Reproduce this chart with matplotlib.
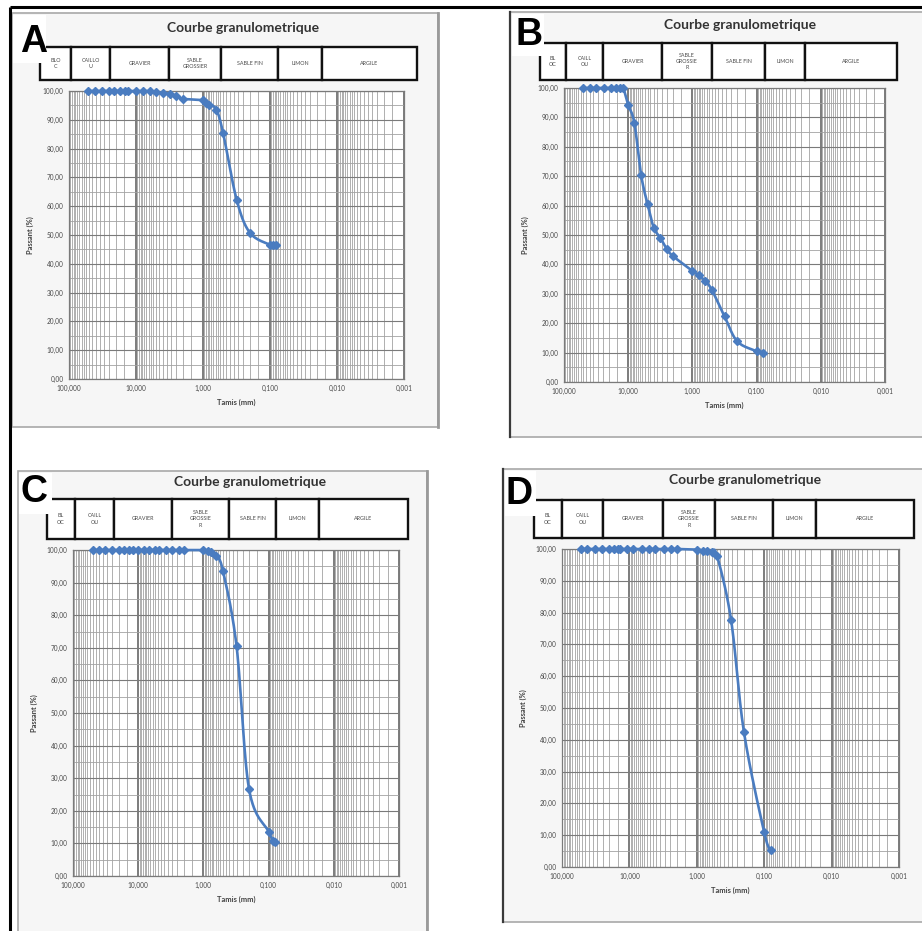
import numpy as np
import matplotlib
matplotlib.use("Agg")
import matplotlib.pyplot as plt
from matplotlib.patches import Rectangle
from matplotlib.ticker import FixedLocator, NullFormatter, FixedFormatter

FW, FH = 922, 931

# ---------------- data ----------------
title = "Courbe granulometrique"
panel_letters = ["A", "B", "C", "D"]
x_ticks = [100, 10, 1, 0.1, 0.01, 0.001]
x_ticklabels = ["100,000", "10,000", "1,000", "0,100", "0,010", "0,001"]
y_ticks = [0, 10, 20, 30, 40, 50, 60, 70, 80, 90, 100]
y_ticklabels = ["0,00", "10,00", "20,00", "30,00", "40,00", "50,00",
                "60,00", "70,00", "80,00", "90,00", "100,00"]
x_label = "Tamis (mm)"
y_label = "Passant (%)"

classes_A = ["BLO\nC", "CAILLO\nU", "GRAVIER", "SABLE\nGROSSIER", "SABLE FIN", "LIMON", "ARGILE"]
classes_BCD = ["BL\nOC", "CAILL\nOU", "GRAVIER", "SABLE\nGROSSIE\nR", "SABLE FIN", "LIMON", "ARGILE"]

sieve_A = [52, 41, 32, 25, 21, 17.5, 14.7, 13, 10, 7.8, 6.2, 5, 4, 3.15, 2.5, 2,
           1.0, 0.9, 0.8, 0.63, 0.5, 0.315, 0.2, 0.1, 0.09, 0.08]
pass_A = [100, 100, 100, 100, 100, 100, 100, 100, 100, 100, 100, 99.5, 99.3, 99.0, 98.3, 97.3,
          96.8, 95.8, 95.2, 93.5, 85.3, 62.3, 50.8, 46.6, 46.6, 46.7]

sieve_B = [50, 40, 31.5, 24, 18.7, 15.6, 13.6, 12, 10, 8, 6.3, 5, 4, 3.15, 2.5, 2,
           1.0, 0.8, 0.63, 0.5, 0.315, 0.2, 0.1, 0.08]
pass_B = [100, 100, 100, 100, 100, 100, 100, 100, 94.3, 88.0, 70.5, 60.5, 52.5, 49.0, 45.2, 42.8,
          37.8, 36.4, 34.3, 31.4, 22.3, 13.8, 10.5, 9.7]

sieve_C = [50, 40, 32, 25, 20, 16.5, 14, 12, 10, 8.2, 6.8, 5.6, 4.8, 3.8, 3, 2.4, 2,
           1.0, 0.85, 0.76, 0.63, 0.5, 0.31, 0.2, 0.1, 0.085, 0.08]
pass_C = [100, 100, 100, 100, 100, 100, 100, 100, 100, 100, 100, 100, 100, 100, 100, 100, 100,
          100, 99.7, 99.3, 98.2, 93.5, 70.5, 26.8, 13.6, 10.6, 10.4]

sieve_D = [52, 42, 32, 25.6, 20.4, 17.2, 15, 13.7, 10.9, 8.7, 6.5, 5.2, 4.15, 3.05, 2.43, 1.98,
           1.0, 0.82, 0.7, 0.6, 0.5, 0.31, 0.2, 0.1, 0.08]
pass_D = [100, 100, 100, 100, 100, 100, 100, 100, 100, 100, 100, 100, 100, 100, 100, 100,
          99.8, 99.5, 99.4, 99.2, 97.8, 77.7, 42.5, 10.9, 5.3]

# ---------------- layout (pixels) ----------------
panels = [
    dict(letter="A", sieve=sieve_A, passing=pass_A, classes=classes_A,
         frame=(12, 13, 438, 427), plot=(69, 91, 404, 379),
         table_x=[40, 71, 110, 169, 221, 278, 322, 417], table_y=(47, 80),
         title_xy=(243, 28), letter_xy=(20, 42), white=(13, 15, 46, 63), frame_left_dark=False),
    dict(letter="B", sieve=sieve_B, passing=pass_B, classes=classes_BCD,
         frame=(510, 12, 930, 437), plot=(564, 88, 885, 382),
         table_x=[540, 566, 603, 662, 712, 765, 805, 897], table_y=(43, 80),
         title_xy=(740, 25), letter_xy=(515, 35), white=(512, 14, 544, 56), frame_left_dark=True),
    dict(letter="C", sieve=sieve_C, passing=pass_C, classes=classes_BCD,
         frame=(18, 471, 427, 935), plot=(73, 550, 399, 876),
         table_x=[47, 75, 114, 172, 229, 276, 319, 408], table_y=(499, 539),
         title_xy=(250, 482), letter_xy=(20, 492), white=(19, 473, 52, 514), frame_left_dark=False),
    dict(letter="D", sieve=sieve_D, passing=pass_D, classes=classes_BCD,
         frame=(503, 469, 930, 922), plot=(562, 549, 899, 867),
         table_x=[534, 562, 603, 663, 715, 773, 816, 914], table_y=(500, 538),
         title_xy=(745, 480), letter_xy=(505, 494), white=(505, 471, 536, 516), frame_left_dark=True),
]

LINE_COLOR = "#4a7cc0"
GRID_DARK = "#7a7a7a"
GRID_LIGHT = "#a2a2a2"
TXT = "#4a4a4a"


def fig_rect(x0, y0, x1, y1):
    return [x0 / FW, 1 - y1 / FH, (x1 - x0) / FW, (y1 - y0) / FH]


def smooth_curve(xs, ys, W, H, n=16):
    """Excel-like smoothed line (Catmull-Rom Bezier) computed in screen space."""
    u = (2 - np.log10(np.asarray(xs, float))) * W / 5.0
    v = np.asarray(ys, float) * H / 100.0
    P = np.column_stack([u, v])
    Pp = np.vstack([P[0], P, P[-1]])
    t = np.linspace(0, 1, n)[1:]
    out = [P[0]]
    for i in range(len(P) - 1):
        p0, p1, p2, p3 = Pp[i], Pp[i + 1], Pp[i + 2], Pp[i + 3]
        c1 = p1 + (p2 - p0) / 6.0
        c2 = p2 - (p3 - p1) / 6.0
        seg = (((1 - t) ** 3)[:, None] * p1 + (3 * (1 - t) ** 2 * t)[:, None] * c1
               + (3 * (1 - t) * t ** 2)[:, None] * c2 + (t ** 3)[:, None] * p2)
        out.extend(seg)
    out = np.array(out)
    return 10 ** (2 - out[:, 0] * 5.0 / W), out[:, 1] * 100.0 / H


fig = plt.figure(figsize=(FW / 100, FH / 100), dpi=100)
fig.patch.set_facecolor("white")

bg = fig.add_axes([0, 0, 1, 1], zorder=0)
bg.set_xlim(0, FW)
bg.set_ylim(FH, 0)
bg.axis("off")

# outer black lines
bg.plot([10, FW], [7, 7], color="black", lw=2.2, solid_capstyle="butt")
bg.plot([10, 10], [7, FH], color="black", lw=2.2, solid_capstyle="butt")

for p in panels:
    fx0, fy0, fx1, fy1 = p["frame"]
    bg.add_patch(Rectangle((fx0, fy0), fx1 - fx0, fy1 - fy0, facecolor="#f6f6f6",
                           edgecolor="#a8a8a8", lw=1.2))
    if p["frame_left_dark"]:
        bg.plot([fx0, fx0], [fy0, fy1], color="#3a3a3a", lw=1.6)
    else:
        bg.plot([fx1, fx1], [fy0, fy1], color="#9a9a9a", lw=2.0)

    # title
    bg.text(p["title_xy"][0], p["title_xy"][1], title, ha="center", va="center",
            fontsize=10, fontweight="bold", family="Lato", color="#333333")

    # class table
    tx = p["table_x"]
    ty0, ty1 = p["table_y"]
    for i in range(len(tx) - 1):
        bg.add_patch(Rectangle((tx[i], ty0), tx[i + 1] - tx[i], ty1 - ty0,
                               facecolor="white", edgecolor="#111111", lw=1.7))
        bg.text((tx[i] + tx[i + 1]) / 2, (ty0 + ty1) / 2, p["classes"][i],
                ha="center", va="center", fontsize=3.9, color=TXT, family="Lato",
                linespacing=1.3)

    # white patch + letter
    wx0, wy0, wx1, wy1 = p["white"]
    bg.add_patch(Rectangle((wx0, wy0), wx1 - wx0, wy1 - wy0, facecolor="white",
                           edgecolor="none", zorder=5))
    bg.text(p["letter_xy"][0], p["letter_xy"][1], p["letter"], ha="left", va="center",
            fontsize=27, fontweight="bold", family="Liberation Sans", color="black", zorder=6)

    # plot area
    px0, py0, px1, py1 = p["plot"]
    ax = fig.add_axes(fig_rect(px0, py0, px1, py1), zorder=1)
    ax.set_facecolor("white")
    ax.set_xscale("log")
    ax.set_xlim(100, 0.001)
    ax.set_ylim(0, 100)

    ax.xaxis.set_major_locator(FixedLocator(x_ticks))
    ax.xaxis.set_major_formatter(FixedFormatter(x_ticklabels))
    minor_x = [m * 10.0 ** e for e in range(-3, 2) for m in np.arange(1.5, 10, 0.5)]
    ax.xaxis.set_minor_locator(FixedLocator(minor_x))
    ax.xaxis.set_minor_formatter(NullFormatter())
    ax.yaxis.set_major_locator(FixedLocator(y_ticks))
    ax.yaxis.set_major_formatter(FixedFormatter(y_ticklabels))
    ax.yaxis.set_minor_locator(FixedLocator(np.arange(5, 100, 10)))

    ax.grid(True, which="major", axis="x", color="#666666", lw=1.2)
    ax.grid(True, which="minor", axis="x", color=GRID_LIGHT, lw=0.6)
    ax.grid(True, which="major", axis="y", color=GRID_DARK, lw=0.8)
    ax.grid(True, which="minor", axis="y", color=GRID_LIGHT, lw=0.6)
    ax.set_axisbelow(True)
    ax.tick_params(which="both", length=0, labelsize=4.7, labelcolor=TXT, pad=4)
    for lab in ax.get_xticklabels() + ax.get_yticklabels():
        lab.set_family("Lato")
    for s in ax.spines.values():
        s.set_color("#7a7a7a")
        s.set_linewidth(0.9)

    ax.set_xlabel(x_label, fontsize=5.4, fontweight="bold", color="#404040",
                  family="Lato", labelpad=5)
    ax.set_ylabel(y_label, fontsize=5.4, fontweight="bold", color="#404040",
                  family="Lato", labelpad=6)

    W, H = px1 - px0, py1 - py0
    xs_s, ys_s = smooth_curve(p["sieve"], p["passing"], W, H)
    ax.plot(xs_s, ys_s, color=LINE_COLOR, lw=1.9, clip_on=False, zorder=3)
    ax.plot(p["sieve"], p["passing"], linestyle="none", marker="D", markersize=3.6,
            color=LINE_COLOR, clip_on=False, zorder=4)

fig.savefig("out.png", dpi=100)
